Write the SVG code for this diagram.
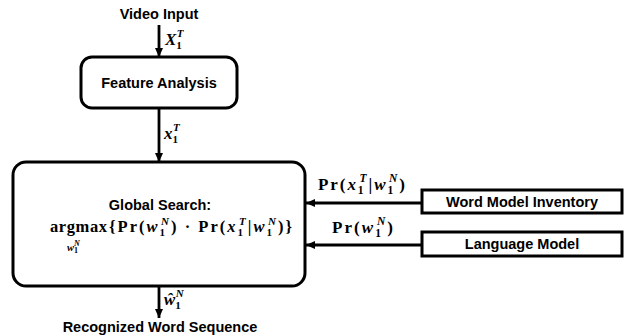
<svg xmlns="http://www.w3.org/2000/svg" width="626" height="336" viewBox="0 0 626 336">
<defs>
<marker id="ah" markerUnits="userSpaceOnUse" markerWidth="10" markerHeight="10" viewBox="0 0 10 10" refX="9" refY="5" orient="auto">
<path d="M0,1 L9,5 L0,9 Z" fill="#000"/>
</marker>
</defs>
<style>
.box{fill:#fff;stroke:#000;stroke-width:3}
.lbl{font-family:"Liberation Sans",Arial,sans-serif;font-weight:bold;font-size:14.5px;fill:#000}
.m{font-family:"Liberation Serif","Times New Roman",serif;font-weight:bold;fill:#000}
.i{font-style:italic}
.conn{stroke:#000;stroke-width:2.8;fill:none;marker-end:url(#ah)}
</style>
<g id="connectors">
<line class="conn" x1="159" y1="25" x2="159" y2="57"/>
<line class="conn" x1="159" y1="108" x2="159" y2="162"/>
<line class="conn" x1="159" y1="286" x2="159" y2="318"/>
<line class="conn" x1="422" y1="203" x2="306" y2="203"/>
<line class="conn" x1="422" y1="245" x2="306" y2="245"/>
<text class="m i" x="165" y="45" font-size="17">X<tspan font-style="normal" font-size="11" dy="4">1</tspan><tspan font-size="11" dx="-5" dy="-12">T</tspan></text>
<text class="m i" x="164" y="139" font-size="17">x<tspan font-style="normal" font-size="11" dy="4">1</tspan><tspan font-size="11" dx="-5" dy="-12">T</tspan></text>
<text class="m i" x="164" y="305" font-size="17">ŵ<tspan font-style="normal" font-size="11" dy="4">1</tspan><tspan font-size="11" dx="-5" dy="-12">N</tspan></text>
<text class="m" x="318" y="190" font-size="17" textLength="87" lengthAdjust="spacing">Pr(<tspan class="i">x</tspan><tspan font-size="11.5" dy="4">1</tspan><tspan class="i" font-size="11.5" dx="-6" dy="-12">T</tspan><tspan dy="8">|</tspan><tspan class="i">w</tspan><tspan font-size="11.5" dy="4">1</tspan><tspan class="i" font-size="11.5" dx="-6" dy="-12">N</tspan><tspan dy="8">)</tspan></text>
<text class="m" x="332" y="233" font-size="17" textLength="61" lengthAdjust="spacing">Pr(<tspan class="i">w</tspan><tspan font-size="11.5" dy="4">1</tspan><tspan class="i" font-size="11.5" dx="-6" dy="-12">N</tspan><tspan dy="8">)</tspan></text>
</g>
<g id="video-input">
<text class="lbl" x="159" y="19" text-anchor="middle">Video Input</text>
</g>
<g id="feature-analysis">
<rect class="box" x="81" y="57" width="156" height="51" rx="11"/>
<text class="lbl" x="159" y="88" text-anchor="middle">Feature Analysis</text>
</g>
<g id="global-search">
<rect class="box" x="13" y="162" width="292" height="124" rx="13"/>
<text class="lbl" x="160" y="210" text-anchor="middle">Global Search:</text>
<text class="m" x="50" y="232" font-size="16.5" textLength="57" lengthAdjust="spacing">argmax</text>
<text class="m i" x="67" y="251" font-size="10.5">w<tspan font-style="normal" font-size="8" dy="2">1</tspan><tspan font-size="8" dx="-4" dy="-7">N</tspan></text>
<text class="m" x="109" y="232" font-size="16.5" textLength="183" lengthAdjust="spacing">{Pr(<tspan class="i">w</tspan><tspan font-size="11" dy="4">1</tspan><tspan class="i" font-size="11" dx="-6" dy="-11">N</tspan><tspan dy="7">) · Pr(</tspan><tspan class="i">x</tspan><tspan font-size="11" dy="4">1</tspan><tspan class="i" font-size="11" dx="-6" dy="-11">T</tspan><tspan dy="7">|</tspan><tspan class="i">w</tspan><tspan font-size="11" dy="4">1</tspan><tspan class="i" font-size="11" dx="-6" dy="-11">N</tspan><tspan dy="7">)}</tspan></text>
</g>
<g id="word-model-inventory">
<rect class="box" x="422" y="190" width="200" height="23"/>
<text class="lbl" x="522" y="207" text-anchor="middle">Word Model Inventory</text>
</g>
<g id="language-model">
<rect class="box" x="422" y="232" width="200" height="24"/>
<text class="lbl" x="522" y="249" text-anchor="middle">Language Model</text>
</g>
<g id="recognized-word-sequence">
<text class="lbl" x="160" y="332" text-anchor="middle">Recognized Word Sequence</text>
</g>
</svg>
